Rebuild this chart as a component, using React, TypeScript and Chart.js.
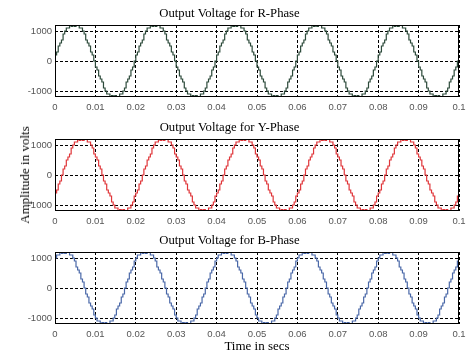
import React, { useEffect, useRef } from 'react';
import { Chart, registerables } from 'chart.js';
Chart.register(...registerables);

// ---- data ----
const sampleStep = 0.0004; // seconds per staircase sample
const cycleCount = 5;
const xTicks = [0, 0.01, 0.02, 0.03, 0.04, 0.05, 0.06, 0.07, 0.08, 0.09, 0.1];
const yTicks = [-1000, 0, 1000];

const rPhaseCycle = [
  0, 200, 300, 500, 600, 700, 900, 1000, 1100, 1100,
  1200, 1150, 1200, 1150, 1200, 1200, 1100, 1100, 1000, 900,
  700, 600, 500, 300, 200, 0, -200, -300, -500, -600,
  -700, -900, -1000, -1100, -1100, -1200, -1150, -1200, -1150, -1200,
  -1200, -1100, -1100, -1000, -900, -700, -600, -500, -300, -200,
];
const yPhaseCycle = [
  -700, -600, -500, -300, -200, 0, 200, 300, 500, 600,
  700, 900, 1000, 1100, 1100, 1200, 1150, 1200, 1150, 1200,
  1200, 1100, 1100, 1000, 900, 700, 600, 500, 300, 200,
  0, -200, -300, -500, -600, -700, -900, -1000, -1100, -1100,
  -1200, -1150, -1200, -1150, -1200, -1200, -1100, -1100, -1000, -900,
];
const bPhaseCycle = [
  900, 1000, 1100, 1100, 1200, 1150, 1200, 1150, 1200, 1200,
  1100, 1100, 1000, 900, 700, 600, 500, 300, 200, 0,
  -200, -300, -500, -600, -700, -900, -1000, -1100, -1100, -1200,
  -1150, -1200, -1150, -1200, -1200, -1100, -1100, -1000, -900, -700,
  -600, -500, -300, -200, 0, 200, 300, 500, 600, 700,
];

const panelTitles = ['Output Voltage for R-Phase', 'Output Voltage for Y-Phase', 'Output Voltage for B-Phase'];
const panelCycles = [rPhaseCycle, yPhaseCycle, bPhaseCycle];
const panelColors = ['#2c4a3a', '#e0363a', '#4a68a8'];

function buildSeries(cycle: number[]) {
  const pts: { x: number; y: number }[] = [];
  const n = cycle.length;
  for (let c = 0; c < cycleCount; c++) {
    for (let k = 0; k < n; k++) {
      pts.push({ x: (c * n + k) * sampleStep, y: cycle[k] });
    }
  }
  pts.push({ x: cycleCount * n * sampleStep, y: cycle[0] });
  return pts;
}

const boxPlugin = {
  id: 'boxPlugin',
  afterDraw(chart: any) {
    const { ctx, chartArea } = chart;
    const l = Math.round(chartArea.left) + 0.5;
    const t = Math.round(chartArea.top) + 0.5;
    const r = Math.round(chartArea.right) - 0.5;
    const b = Math.round(chartArea.bottom) - 0.5;
    ctx.save();
    ctx.setLineDash([]);
    ctx.strokeStyle = '#000';
    ctx.lineWidth = 1;
    ctx.strokeRect(l, t, r - l, b - t);
    ctx.restore();
  },
};

const W = 473;
const H = 113;

function Panel({ idx, top }: { idx: number; top: number }) {
  const ref = useRef<HTMLCanvasElement>(null);
  useEffect(() => {
    if (!ref.current) return;
    const chart = new Chart(ref.current, {
      type: 'line',
      data: {
        datasets: [
          {
            data: buildSeries(panelCycles[idx]),
            borderColor: panelColors[idx],
            borderWidth: 1.2,
            pointRadius: 0,
            stepped: 'after',
            fill: false,
            tension: 0,
          },
        ],
      },
      options: {
        responsive: false,
        animation: false,
        events: [],
        layout: { padding: { left: 0, right: 14, top: 0, bottom: 0 } },
        plugins: {
          legend: { display: false },
          tooltip: { enabled: false },
          title: {
            display: true,
            text: panelTitles[idx],
            color: '#000',
            font: { family: '"Liberation Serif", serif', size: 12.7, weight: 'normal', lineHeight: 1.2 },
            padding: { top: 6.4, bottom: 3.36 },
          },
        },
        scales: {
          x: {
            type: 'linear',
            min: 0,
            max: 0.1,
            afterBuildTicks: (s: any) => {
              s.ticks = xTicks.map((v) => ({ value: v }));
            },
            afterFit: (s: any) => {
              s.height = 16;
            },
            ticks: {
              padding: 5,
              maxRotation: 0,
              autoSkip: false,
              color: '#555',
              font: { family: '"Liberation Sans", Arial, sans-serif', size: 9.5 },
              callback: (v: any) => String(parseFloat(Number(v).toFixed(2))),
            },
            grid: { color: '#000', lineWidth: 1, drawTicks: false },
            border: { display: false, dash: [3, 2] },
          },
          y: {
            type: 'linear',
            min: -1200,
            max: 1200,
            afterBuildTicks: (s: any) => {
              s.ticks = yTicks.map((v) => ({ value: v }));
            },
            afterFit: (s: any) => {
              s.width = 55;
            },
            ticks: {
              padding: 3,
              color: '#555',
              font: { family: '"Liberation Sans", Arial, sans-serif', size: 9.5 },
              callback: (v: any) => String(v),
            },
            grid: { color: '#000', lineWidth: 1, drawTicks: false },
            border: { display: false, dash: [3, 2] },
          },
        },
      },
      plugins: [boxPlugin],
    } as any);
    return () => chart.destroy();
  }, [idx]);
  return (
    <canvas
      ref={ref}
      width={W}
      height={H}
      style={{ position: 'absolute', left: 0, top, width: W, height: H }}
    />
  );
}

export default function App() {
  return (
    <div
      style={{
        position: 'fixed',
        left: 0,
        top: 0,
        width: W,
        height: 356,
        background: '#fff',
        overflow: 'hidden',
      }}
    >
      <Panel idx={0} top={0} />
      <Panel idx={1} top={114} />
      <Panel idx={2} top={227} />
      <div
        style={{
          position: 'absolute',
          left: 25,
          top: 175,
          transform: 'translate(-50%, -50%) rotate(-90deg)',
          whiteSpace: 'nowrap',
          fontFamily: '"Liberation Serif", serif',
          fontSize: 13,
          color: '#000',
        }}
      >
        Amplitude in volts
      </div>
      <div
        style={{
          position: 'absolute',
          left: 257,
          top: 346,
          transform: 'translate(-50%, -50%)',
          whiteSpace: 'nowrap',
          fontFamily: '"Liberation Serif", serif',
          fontSize: 13,
          color: '#000',
        }}
      >
        Time in secs
      </div>
    </div>
  );
}
